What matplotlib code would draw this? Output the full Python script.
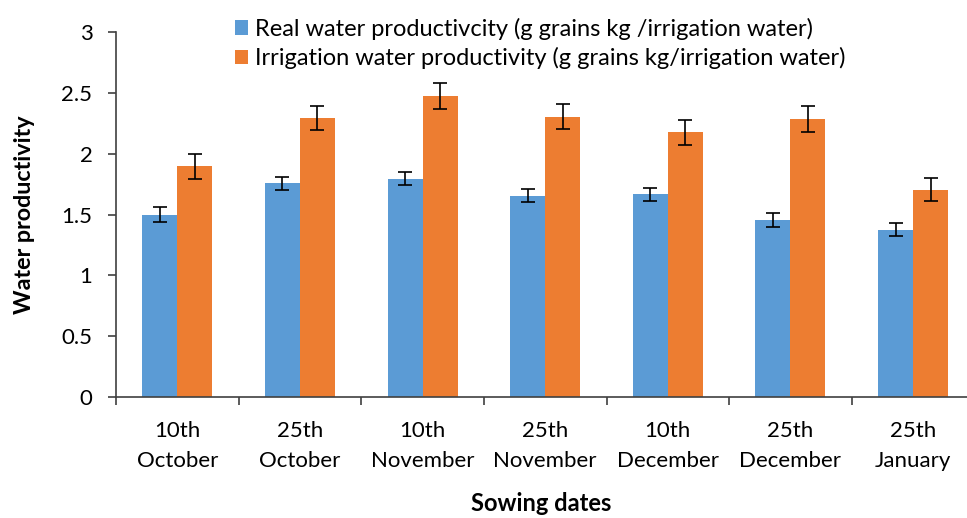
import numpy as np
import matplotlib
matplotlib.use("Agg")
import matplotlib.pyplot as plt
from matplotlib.ticker import FixedLocator

plt.rcParams['font.family'] = ['Lato', 'DejaVu Sans']

# ── Data ──────────────────────────────────────────────────────────────────────
dates = ['10th\nOctober', '25th\nOctober', '10th\nNovember', '25th\nNovember',
         '10th\nDecember', '25th\nDecember', '25th\nJanuary']
real_wp = [1.50, 1.755, 1.795, 1.655, 1.665, 1.455, 1.375]
real_err = [0.06, 0.055, 0.055, 0.055, 0.055, 0.055, 0.055]
irr_wp = [1.895, 2.295, 2.475, 2.305, 2.175, 2.285, 1.705]
irr_err = [0.10, 0.10, 0.105, 0.105, 0.105, 0.105, 0.095]

label_real = 'Real water productivcity (g grains kg /irrigation water)'
label_irr = 'Irrigation water productivity (g grains kg/irrigation water)'

blue = '#5B9BD5'
orange = '#ED7D31'

# ── Plot ──────────────────────────────────────────────────────────────────────
fig = plt.figure(figsize=(9.67, 5.18), dpi=100)
ax = fig.add_axes([0.12, 0.2336, 0.88, 0.7046])

x = np.arange(len(dates))
w = 0.285
err_kw = dict(ecolor='black', elinewidth=1.2, capsize=5, capthick=1.2)
ax.bar(x - w / 2, real_wp, w, yerr=real_err, color=blue, label=label_real,
       error_kw=err_kw)
ax.bar(x + w / 2, irr_wp, w, yerr=irr_err, color=orange, label=label_irr,
       error_kw=err_kw)

ax.set_xlim(-0.5, 6.44)
ax.set_ylim(0, 3)
ax.set_yticks(np.arange(0, 3.01, 0.5))
ax.set_yticklabels(['0', '0.5', '1', '1.5', '2', '2.5', '3'])

ax.set_xticks(x)
ax.set_xticklabels(dates, linespacing=1.66)
ax.xaxis.set_minor_locator(FixedLocator(np.arange(-0.5, 7, 1)))
ax.tick_params(axis='x', which='major', length=0, pad=17, labelsize=16)
ax.tick_params(axis='x', which='minor', length=6, width=1.2, color='#404040')
ax.tick_params(axis='y', length=6, width=1.2, color='#404040', labelsize=16,
               pad=11)

for s in ['top', 'right']:
    ax.spines[s].set_visible(False)
for s in ['left', 'bottom']:
    ax.spines[s].set_color('#404040')
    ax.spines[s].set_linewidth(1.2)

ax.set_ylabel('Water productivity', fontsize=16.8, fontweight='bold', labelpad=19)
ax.set_xlabel('Sowing dates', fontsize=17, fontweight='bold', labelpad=15)

ax.legend(loc='upper left', bbox_to_anchor=(0.115, 1.097), frameon=False,
          fontsize=17, handlelength=0.55, handleheight=0.55, handletextpad=0.3,
          labelspacing=0.3)

fig.savefig('out.png', dpi=100)
